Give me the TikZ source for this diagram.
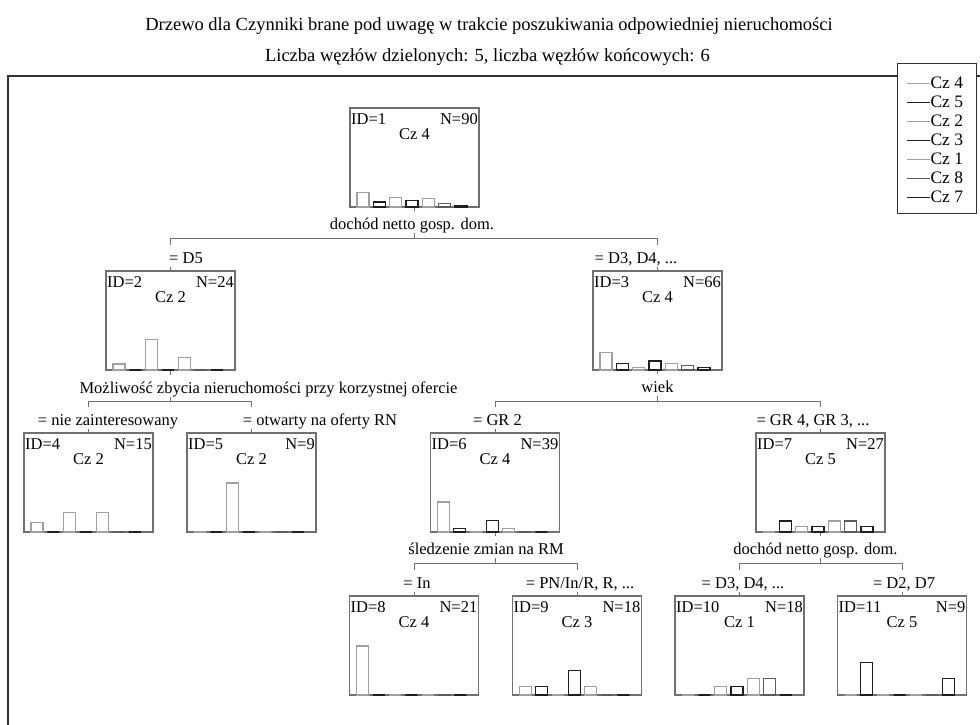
\documentclass[tikz,border=0pt]{standalone}
\usepackage{fontspec}
\setmainfont{Liberation Serif}

\definecolor{boxgray}{HTML}{707070}
\definecolor{framegray}{HTML}{333333}
\definecolor{lightbar}{HTML}{A0A0A0}
\definecolor{midbar}{HTML}{5C5C5C}
\definecolor{darkbar}{HTML}{1E1E1E}

\begin{document}
\begin{tikzpicture}[x=1pt, y=-1pt, every node/.style={font=\fontsize{16.5}{19}\selectfont, inner sep=0pt}]

        \tikzstyle{box}=[draw=boxgray, line width=1.3pt, outer sep=0pt, minimum width=129pt, minimum height=99pt]
        \tikzstyle{lbl}=[anchor=base, fill=white, inner sep=1pt, text height=17pt, text depth=3pt]
        \tikzstyle{branch}=[draw=boxgray, line width=0.8pt, to path={(\tikztostart.south) -- ++(0,31) -| (\tikztotarget.north)}]
        \tikzstyle{frame}=[draw=framegray, line width=1.6pt]
        \tikzstyle{head}=[anchor=base, font=\fontsize{18.5}{21}\selectfont]
        \tikzstyle{bar1}=[draw=lightbar, line width=1.3pt]
        \tikzstyle{bar2}=[draw=darkbar, line width=1.3pt]
        \tikzstyle{bar3}=[draw=lightbar, line width=1.3pt]
        \tikzstyle{bar4}=[draw=darkbar, line width=1.3pt]
        \tikzstyle{bar5}=[draw=lightbar, line width=1.3pt]
        \tikzstyle{bar6}=[draw=midbar, line width=1.3pt]
        \tikzstyle{bar7}=[draw=darkbar, line width=1.3pt]

        \useasboundingbox (0,0) rectangle (980,724);

        \node[head] (title)    at (489,30)   {Drzewo dla Czynniki brane pod uwagę w trakcie poszukiwania odpowiedniej nieruchomości};
        \node[head] (subtitle) at (487.5,61) {Liczba węzłów dzielonych: 5, liczba węzłów końcowych: 6};

        \draw[frame] (8,740) -- (8,76) -- (995,76);

        \node[box] (1)  at (414.5,157.5) {};
        \node[box] (2)  at (170.5,320.5) {};
        \node[box] (3)  at (657.5,320.5) {};
        \node[box] (4)  at (88.5,482.5)  {};
        \node[box] (5)  at (251.5,482.5) {};
        \node[box] (6)  at (495,482.5)   {};
        \node[box] (7)  at (820.5,482.5) {};
        \node[box] (8)  at (414,645.5)   {};
        \node[box] (9)  at (577,645.5)   {};
        \node[box] (10) at (739.5,645.5) {};
        \node[box] (11) at (902,645.5)   {};

        \path
        (1) edge[branch] (2)
        (1) edge[branch] (3)
        (2) edge[branch] (4)
        (2) edge[branch] (5)
        (3) edge[branch] (6)
        (3) edge[branch] (7)
        (6) edge[branch] (8)
        (6) edge[branch] (9)
        (7) edge[branch] (10)
        (7) edge[branch] (11)
        ;

        % split variables
        \node[lbl] (s1) at (412,229)   {dochód netto gosp. dom.};
        \node[lbl] (s2) at (268.5,393) {Możliwość zbycia nieruchomości przy korzystnej ofercie};
        \node[lbl] (s3) at (657.5,392) {wiek};
        \node[lbl] (s6) at (486,554)   {śledzenie zmian na RM};
        \node[lbl] (s7) at (815.5,554) {dochód netto gosp. dom.};

        % split values
        \node[lbl] (v2)  at (186,263)   {= D5};
        \node[lbl] (v3)  at (636,263)   {= D3, D4, ...};
        \node[lbl] (v4)  at (108,425)   {= nie zainteresowany};
        \node[lbl] (v5)  at (320,425)   {= otwarty na oferty RN};
        \node[lbl] (v6)  at (497.5,425) {= GR 2};
        \node[lbl] (v7)  at (813,425)   {= GR 4, GR 3, ...};
        \node[lbl] (v8)  at (417,588)   {= In};
        \node[lbl] (v9)  at (580,588)   {= PN/In/R, R, ...};
        \node[lbl] (v10) at (743,588)   {= D3, D4, ...};
        \node[lbl] (v11) at (904,588)   {= D2, D7};

        \foreach \id/\n/\cz/\counts in {1/90/4/{27,9,18,12,15,6,3}, 2/24/2/{3,0,15,0,6,0,0},
            3/66/4/{24,9,3,12,9,6,3}, 4/15/2/{3,0,6,0,6,0,0}, 5/9/2/{0,0,9,0,0,0,0},
            6/39/4/{24,3,0,9,3,0,0}, 7/27/5/{0,6,3,3,6,6,3}, 8/21/4/{21,0,0,0,0,0,0},
            9/18/3/{3,3,0,9,3,0,0}, 10/18/1/{0,0,3,3,6,6,0}, 11/9/5/{0,6,0,0,0,0,3}} {
          \node[anchor=base west] at ([shift={(1,16)}]\id.north west)  {ID=\id};
          \node[anchor=base east] at ([shift={(-1,16)}]\id.north east) {N=\n};
          \node[anchor=base]      at ([shift={(0,31)}]\id.north)       {Cz \cz};
          \foreach \cnt [count=\bi] in \counts
            \draw[bar\bi] ([xshift={7+16.33*(\bi-1)}]\id.south west) rectangle ++(12,{-49*\cnt/\n});
        }

        % legend
        \node[draw=framegray, fill=white, line width=1.3pt, anchor=north west, minimum width=79pt, minimum height=150pt] (legend) at (897,63) {};
        \foreach \cz [count=\bi] in {4,5,2,3,1,8,7}
          \draw[bar\bi, line width=1pt] (907,64+19*\bi) -- ++(23,0) node[anchor=west, font=\fontsize{17.5}{19}\selectfont] {Cz \cz};

\end{tikzpicture}
\end{document}
